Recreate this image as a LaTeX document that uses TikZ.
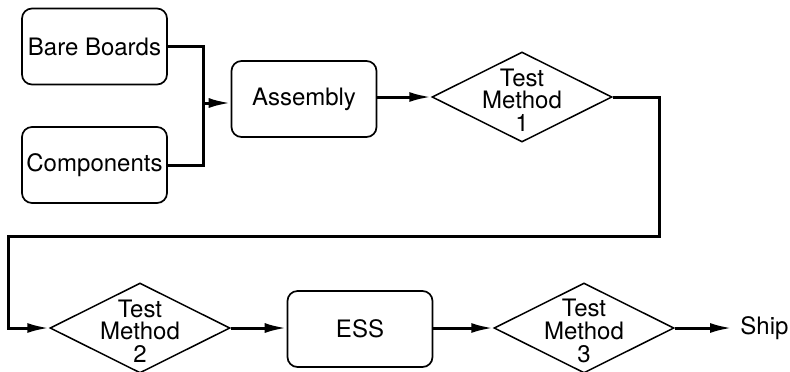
\documentclass[tikz,border=0pt]{standalone}
\usepackage{fontspec}
\setmainfont{TeX Gyre Heros}
\usepackage{tikz}
\usetikzlibrary{positioning,shapes,arrows.meta,calc}

\tikzset{
  stage/.style={draw, rounded corners=5pt, line width=0.85pt,
    minimum width=72.5pt, minimum height=38pt, inner sep=0pt},
  check/.style={draw, diamond, line width=0.75pt,
    minimum width=90pt, minimum height=45pt, inner sep=0pt},
  checktext/.style={align=center, inner sep=0pt,
    font=\fontsize{12}{11.3}\selectfont},
  lead/.style={line width=1.5pt},
  flow/.style={line width=1.5pt, -{Latex[length=11pt,width=5pt]}}
}

\begin{document}
\begin{tikzpicture}[x=0.5pt, y=-0.5pt, font=\fontsize{12}{14}\selectfont]
  \useasboundingbox (0,0) rectangle (790,371);

  \node[stage] (bare) at (94.5,46.5) {Bare Boards};
  \node[stage] (comp) at (94.5,165) {Components};
  \node[stage] (asm) at (304,99) {Assembly};
  \node[check] (tm1) at (522,97) {};
  \node[checktext] (tm1txt) at ($(tm1)+(0,3)$) {Test\\Method\\1};

  \node[check] (tm2) at (140,328) {};
  \node[checktext] (tm2txt) at ($(tm2)+(0,3)$) {Test\\Method\\2};
  \node[stage] (ess) at (360,329) {ESS};
  \node[check] (tm3) at (584,328) {};
  \node[checktext] (tm3txt) at ($(tm3)+(0,3)$) {Test\\Method\\3};
  \node[anchor=west, inner sep=4pt] (ship) at (732,328) {Ship};

  \coordinate (jn) at (203,103);
  \coordinate (rt) at (659,236);
  \coordinate (lf) at (8,236);

  \draw[lead] (bare.east) -| (jn);
  \draw[lead] (comp.east) -| (jn);
  \draw[flow] (jn) -- (jn -| asm.west);
  \draw[flow] (asm.east |- tm1.west) -- (tm1.west);
  \draw[flow] (tm1.east) -| (rt) -- (lf) |- (tm2.west);
  \draw[flow] (tm2.east) -- (ess.west |- tm2.east);
  \draw[flow] (ess.east |- tm3.west) -- (tm3.west);
  \draw[flow] (tm3.east) -- (ship.west);
\end{tikzpicture}
\end{document}
